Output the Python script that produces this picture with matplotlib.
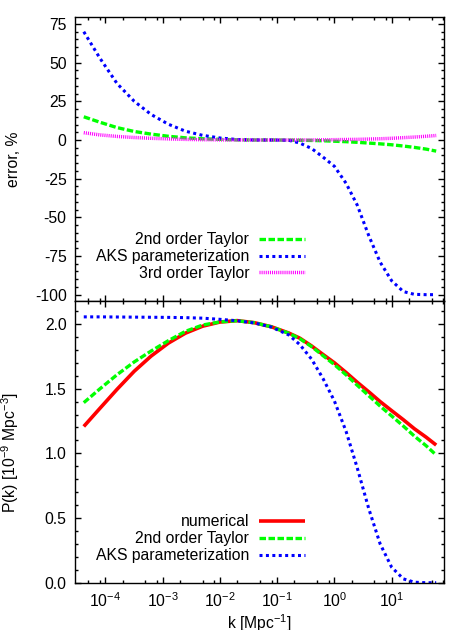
"""Two-panel comparison of P(k) approximations: relative error (top) and P(k) (bottom)."""

import matplotlib

matplotlib.use("Agg")
import matplotlib.pyplot as plt
from matplotlib.ticker import FormatStrFormatter, LogLocator, MultipleLocator, NullFormatter

RED = "#FF0000"
GREEN = "#00FF00"
BLUE = "#0000FF"
MAGENTA = "#FF00FF"

# k grid [Mpc^-1]
K = [4.2e-5, 8e-5, 1.6e-4, 3.2e-4, 6.3e-4, 1.26e-3, 2.5e-3, 5e-3, 1e-2, 2e-2,
     4e-2, 8e-2, 0.16, 0.25, 0.4, 0.63, 1.0, 1.6, 2.5, 4.0, 6.3, 10.0, 16.0,
     25.0, 40.0, 60.0]

# bottom panel, P(k) in 1e-9 Mpc^3
PK_NUMERICAL = [1.208, 1.347, 1.495, 1.635, 1.752, 1.852, 1.929, 1.983, 2.015, 2.026,
                2.010, 1.978, 1.93, 1.89, 1.83, 1.765, 1.70, 1.625, 1.55, 1.475,
                1.40, 1.33, 1.26, 1.19, 1.125, 1.064]
PK_TAYLOR2 = [1.392, 1.498, 1.608, 1.707, 1.791, 1.871, 1.943, 1.992, 2.016, 2.025,
              2.010, 1.978, 1.928, 1.886, 1.825, 1.756, 1.686, 1.607, 1.527, 1.445,
              1.365, 1.289, 1.211, 1.133, 1.059, 0.987]
PK_AKS = [2.055, 2.055, 2.054, 2.053, 2.052, 2.051, 2.049, 2.045, 2.036, 2.025,
          2.008, 1.976, 1.915, 1.84, 1.728, 1.58, 1.405, 1.17, 0.89, 0.57,
          0.30, 0.12, 0.03, 0.004, 0.0, 0.0]

# top panel, error in %
ERR_TAYLOR2 = [15.0, 11.5, 8.0, 5.5, 3.8, 2.4, 1.4, 0.8, 0.4, 0.1, 0.0, 0.0, -0.1,
               -0.2, -0.3, -0.5, -0.8, -1.1, -1.5, -2.0, -2.5, -3.1, -3.9, -4.8,
               -5.9, -7.2]
ERR_AKS = [70.0, 53.0, 36.5, 25.0, 16.5, 10.2, 5.7, 3.0, 1.3, 0.3, 0.0, 0.0, -0.2,
           -2.0, -5.5, -11.0, -17.0, -28.0, -42.0, -62.0, -79.0, -91.0, -98.0,
           -99.8, -100.0, -100.0]
ERR_TAYLOR3 = [4.7, 3.3, 2.3, 1.6, 1.1, 0.7, 0.4, 0.2, 0.1, 0.0, 0.0, 0.0, 0.0,
               0.0, 0.0, 0.1, 0.2, 0.3, 0.4, 0.6, 0.8, 1.1, 1.5, 1.9, 2.4, 2.9]

plt.rcParams.update(
    {
        "font.family": "Liberation Sans",
        "mathtext.default": "regular",
        "font.size": 11.3,
        "axes.linewidth": 1.0,
        "xtick.direction": "in",
        "ytick.direction": "in",
        "xtick.top": True,
        "ytick.right": True,
        "xtick.major.size": 4.0,
        "ytick.major.size": 4.0,
        "xtick.minor.size": 2.2,
        "ytick.minor.size": 2.2,
        "xtick.major.width": 1.0,
        "ytick.major.width": 1.0,
        "xtick.minor.width": 1.0,
        "ytick.minor.width": 1.0,
        "legend.frameon": False,
        "legend.fontsize": 11.3,
    }
)

S_NUM = dict(color=RED, lw=2.6, ls="-", solid_capstyle="butt")
S_T2 = dict(color=GREEN, lw=2.4, ls=(0, (1.95, 0.75)))
S_AKS = dict(color=BLUE, lw=2.2, ls=(0, (0.98, 1.12)))
S_T3 = dict(color=MAGENTA, lw=2.5, ls=(0, (0.3, 0.3)))

fig = plt.figure(figsize=(4.71, 6.3), dpi=100)
ax1 = fig.add_axes([0.1592, 0.5227, 0.7834, 0.4498])
ax2 = fig.add_axes([0.1592, 0.0750, 0.7834, 0.4477], sharex=ax1)

ax1.plot(K, ERR_TAYLOR2, label="2nd order Taylor", **S_T2)
ax1.plot(K, ERR_AKS, label="AKS parameterization", **S_AKS)
ax1.plot(K, ERR_TAYLOR3, label="3rd order Taylor", **S_T3)

ax2.plot(K, PK_NUMERICAL, label="numerical", **S_NUM)
ax2.plot(K, PK_TAYLOR2, label="2nd order Taylor", **S_T2)
ax2.plot(K, PK_AKS, label="AKS parameterization", **S_AKS)

ax1.set_xscale("log")
ax1.set_xlim(2.95e-5, 82)
ax1.set_ylim(-103.9, 79.3)
ax2.set_ylim(0.0, 2.18)

for ax in (ax1, ax2):
    ax.xaxis.set_major_locator(LogLocator(base=10, numticks=20))
    ax.xaxis.set_minor_locator(LogLocator(base=10, subs=(2, 5, 8), numticks=20))
    ax.xaxis.set_minor_formatter(NullFormatter())
    ax.tick_params(which="both", pad=6)
ax1.tick_params(axis="x", which="both", labelbottom=False)

ax1.yaxis.set_major_locator(MultipleLocator(25))
ax1.yaxis.set_minor_locator(MultipleLocator(5))
ax1.yaxis.set_major_formatter(FormatStrFormatter("%d"))
ax2.yaxis.set_major_locator(MultipleLocator(0.5))
ax2.yaxis.set_minor_locator(MultipleLocator(0.1))
ax2.yaxis.set_major_formatter(FormatStrFormatter("%.1f"))

ax1.set_ylabel("error, %")
ax1.yaxis.set_label_coords(-0.147, 0.5)
ax2.set_ylabel("P(k) [10$^{-9}$ Mpc$^{-3}$]")
ax2.yaxis.set_label_coords(-0.147, 0.46)
ax2.set_xlabel("k [Mpc$^{-1}$]")
ax2.xaxis.set_label_coords(0.5, -0.105)

legend_kw = dict(markerfirst=False, handlelength=2.9, handletextpad=0.65,
                 labelspacing=0.12, borderpad=0.0, borderaxespad=0.0,
                 loc="upper right")
ax1.legend(bbox_to_anchor=(0.623, 0.242), **legend_kw)
ax2.legend(bbox_to_anchor=(0.623, 0.242), **legend_kw)

fig.savefig("out.png", dpi=100)
